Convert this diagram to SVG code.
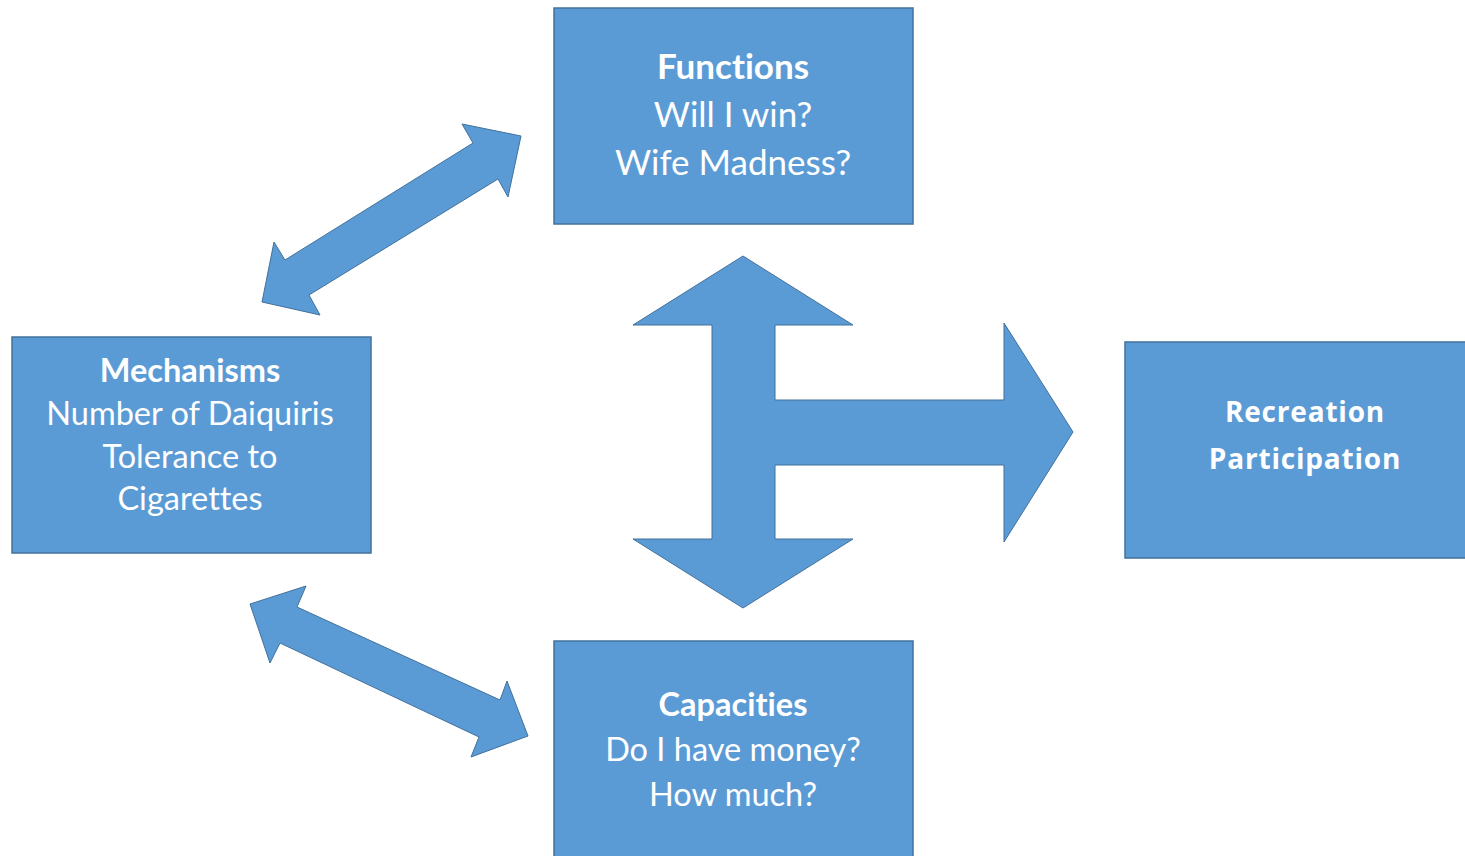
<svg xmlns="http://www.w3.org/2000/svg" width="1465" height="856" viewBox="0 0 1465 856">
  <style>
    .box { fill: #5B9BD5; stroke: #41719C; stroke-width: 1.5; }
    .arrow { fill: #5B9BD5; stroke: #41719C; stroke-width: 1; stroke-linejoin: miter; }
    .lbl { fill: #FFFFFF; font-family: Lato, "Open Sans", "Liberation Sans", sans-serif; font-size: 32.5px; text-anchor: middle; font-variant-ligatures: none; }
    .big { font-size: 35px; }
    .hd { font-weight: 700; }
    .rec { fill: #FFFFFF; font-family: "Open Sans", "Liberation Sans", sans-serif; font-weight: 700; font-size: 28px; letter-spacing: 0.8px; text-anchor: middle; }
  </style>
  <rect width="1465" height="856" fill="#FFFFFF"/>

  <g id="connectors">
    <!-- Mechanisms <-> Functions -->
    <polygon class="arrow" points="521,136 462,124 473,143 285,260 274,242 262,302 320,315 309,295 498,179 508,197"/>
    <!-- Mechanisms <-> Capacities -->
    <polygon class="arrow" points="250,604 306,586 297,607 500,700 507,681 528,736 471,757 479,737 280,643 270,663"/>
    <!-- Functions / Capacities -> Recreation Participation -->
    <polygon class="arrow" points="743,256 853,325 775,325 775,400 1004,400 1004,323 1073,432 1004,542 1004,465 775,465 775,539 853,539 743,608 633,539 712,539 712,325 633,325"/>
  </g>

  <g id="functions">
    <rect class="box" x="554" y="8" width="359" height="216"/>
    <text class="lbl big hd" x="733" y="79">Functions</text>
    <text class="lbl big" x="733" y="127">Will I win?</text>
    <text class="lbl big" x="733" y="175">Wife Madness?</text>
  </g>

  <g id="mechanisms">
    <rect class="box" x="12" y="337" width="359" height="216"/>
    <text class="lbl hd" x="190" y="382">Mechanisms</text>
    <text class="lbl" x="190" y="425">Number of Daiquiris</text>
    <text class="lbl" x="190" y="468">Tolerance to</text>
    <text class="lbl" x="190" y="510">Cigarettes</text>
  </g>

  <g id="recreation">
    <rect class="box" x="1125" y="342" width="345" height="216"/>
    <text class="rec" x="1305" y="422">Recreation</text>
    <text class="rec" x="1305" y="469">Participation</text>
  </g>

  <g id="capacities">
    <rect class="box" x="554" y="641" width="359" height="220"/>
    <text class="lbl hd" x="733" y="716">Capacities</text>
    <text class="lbl" x="733" y="761">Do I have money?</text>
    <text class="lbl" x="733" y="806">How much?</text>
  </g>
</svg>
